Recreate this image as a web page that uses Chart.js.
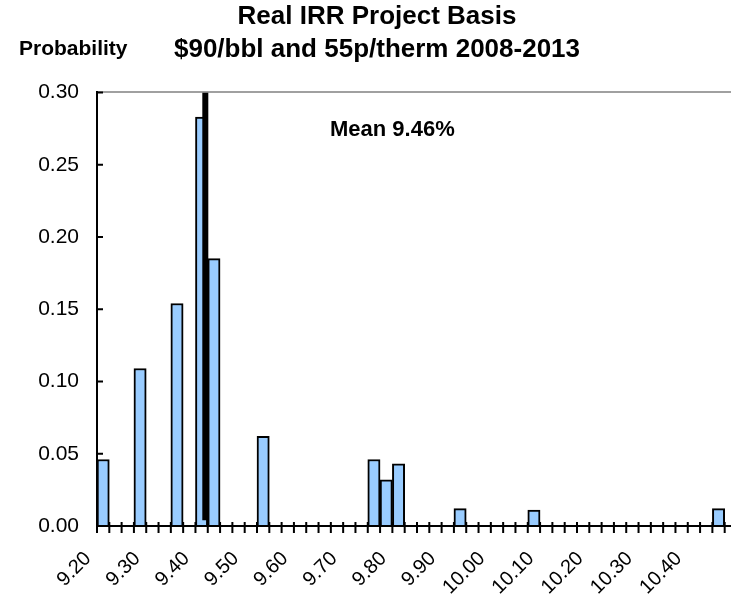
<!DOCTYPE html>
<html>
<head>
<meta charset="utf-8">
<script src="https://cdn.jsdelivr.net/npm/chart.js@4.4.1/dist/chart.umd.min.js"></script>
<style>
html, body { margin: 0; padding: 0; background: #fff; overflow: hidden; }
#wrap { position: relative; width: 745px; height: 596px; }
</style>
</head>
<body>
<div id="wrap"><canvas id="chart"></canvas></div>
<script>
// histogram bins (start of each 0.025 wide bin, in % IRR)
var binStarts = [9.200, 9.225, 9.250, 9.275, 9.300, 9.325, 9.350, 9.375, 9.400, 9.425,
                 9.450, 9.475, 9.500, 9.525, 9.550, 9.575, 9.600, 9.625, 9.650, 9.675,
                 9.700, 9.725, 9.750, 9.775, 9.800, 9.825, 9.850, 9.875, 9.900, 9.925,
                 9.950, 9.975, 10.000, 10.025, 10.050, 10.075, 10.100, 10.125, 10.150, 10.175,
                 10.200, 10.225, 10.250, 10.275, 10.300, 10.325, 10.350, 10.375, 10.400, 10.425,
                 10.450, 10.475];
var binWidth = 0.025;
var probabilities = [0.046, 0, 0, 0.109, 0, 0, 0.154, 0, 0.283, 0.185,
                     0, 0, 0, 0.062, 0, 0, 0, 0, 0, 0,
                     0, 0, 0.046, 0.032, 0.043, 0, 0, 0, 0, 0.012,
                     0, 0, 0, 0, 0, 0.011, 0, 0, 0, 0,
                     0, 0, 0, 0, 0, 0, 0, 0, 0, 0,
                     0.012, 0];
var tickLabels = ['9.20', '9.30', '9.40', '9.50', '9.60', '9.70', '9.80', '9.90',
                  '10.00', '10.10', '10.20', '10.30', '10.40'];
var meanLineAt = 9.42;
var meanText = 'Mean 9.46%';
var meanTextAt = [9.80, 0.274];
var yMax = 0.30, yStep = 0.05;

var FONT = '"Liberation Sans", Arial, sans-serif';

var barPoints = binStarts.map(function(b, i) {
    return { x: b + binWidth / 2, y: probabilities[i] };
});

var extras = {
    id: 'extras',
    afterDraw: function(chart) {
        var ctx = chart.ctx, xs = chart.scales.x, ys = chart.scales.y, a = chart.chartArea;
        ctx.save();
        // tick marks crossing the axes
        ctx.strokeStyle = '#000';
        ctx.lineWidth = 2;
        ctx.beginPath();
        xs.ticks.forEach(function(t, i) {
            var px = xs.getPixelForTick(i);
            ctx.moveTo(px, a.bottom - 4);
            ctx.lineTo(px, a.bottom + 7);
        });
        ys.ticks.forEach(function(t, i) {
            var py = ys.getPixelForTick(i);
            ctx.moveTo(a.left, py);
            ctx.lineTo(a.left + 6, py);
        });
        ctx.stroke();

        ctx.fillStyle = '#000';
        ctx.textBaseline = 'middle';
        ctx.textAlign = 'center';
        ctx.font = 'bold 22px ' + FONT;
        ctx.fillText(meanText, xs.getPixelForValue(meanTextAt[0]), ys.getPixelForValue(meanTextAt[1]));

        ctx.textAlign = 'left';
        ctx.font = 'bold 21px ' + FONT;
        ctx.fillText('Probability', a.left - 78, a.top - 43);
        ctx.restore();
    }
};

new Chart(document.getElementById('chart'), {
    data: {
        datasets: [
            {
                type: 'line',
                data: [{ x: meanLineAt, y: 0.004 }, { x: meanLineAt, y: yMax }],
                borderColor: '#000',
                borderWidth: 6,
                borderCapStyle: 'butt',
                pointRadius: 0,
                order: 0
            },
            {
                type: 'bar',
                data: barPoints,
                backgroundColor: '#99ccff',
                borderColor: '#000',
                borderWidth: 2,
                barPercentage: 1,
                categoryPercentage: 1,
                order: 1
            }
        ]
    },
    options: {
        responsive: true,
        maintainAspectRatio: false,
        animation: false,
        layout: { padding: { left: 17, right: 8, top: 0, bottom: 0 } },
        plugins: {
            legend: { display: false },
            tooltip: { enabled: false },
            title: {
                display: true,
                text: ['Real IRR Project Basis', '$90/bbl and 55p/therm 2008-2013'],
                color: '#000',
                font: { family: FONT, size: 26, weight: 'bold', lineHeight: 1.24 },
                padding: { top: 1, bottom: 27 }
            }
        },
        scales: {
            x: {
                type: 'linear',
                offset: false,
                min: binStarts[0],
                max: binStarts[binStarts.length - 1] + binWidth,
                afterFit: function(scale) { scale.height = 70; scale.paddingRight = 0; scale.paddingLeft = 0; },
                grid: { drawOnChartArea: false, drawTicks: false, offset: false },
                border: { color: '#000', width: 2 },
                ticks: {
                    stepSize: binWidth,
                    autoSkip: false,
                    maxRotation: 45,
                    minRotation: 45,
                    padding: 21,
                    labelOffset: -9,
                    color: '#000',
                    font: { family: FONT, size: 20 },
                    callback: function(v) {
                        var s = v.toFixed(3);
                        var lab = s.slice(0, -1);
                        return (s.charAt(s.length - 1) === '0' && tickLabels.indexOf(lab) >= 0) ? lab : '';
                    }
                }
            },
            y: {
                min: 0,
                max: yMax,
                afterFit: function(scale) { scale.width = 80; },
                grid: {
                    drawTicks: false,
                    lineWidth: 2,
                    color: function(c) {
                        return (c.tick && c.tick.value > yMax - 1e-9) ? '#a0a0a0' : 'rgba(0,0,0,0)';
                    }
                },
                border: { color: '#000', width: 2 },
                ticks: {
                    stepSize: yStep,
                    padding: 18,
                    color: '#000',
                    font: { family: FONT, size: 21 },
                    callback: function(v) { return v.toFixed(2); }
                }
            }
        }
    },
    plugins: [extras]
});
</script>
</body>
</html>
